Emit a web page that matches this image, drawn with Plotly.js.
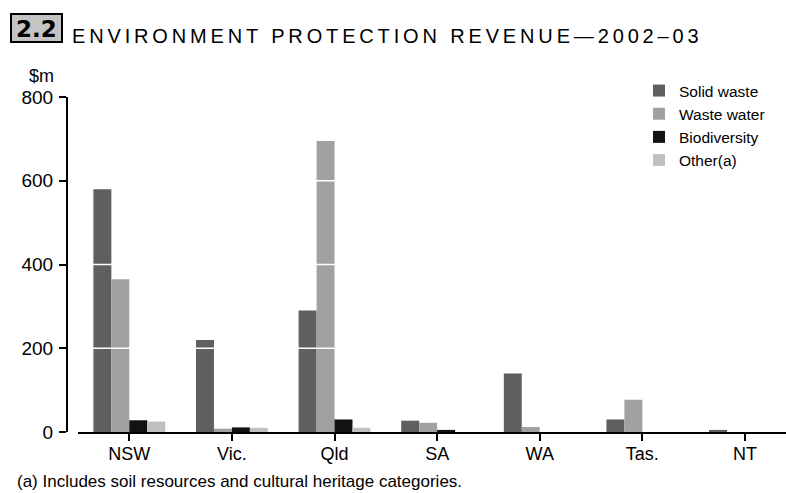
<!DOCTYPE html>
<html>
<head>
<meta charset="utf-8">
<script src="https://cdn.plot.ly/plotly-3.0.1.min.js"></script>
<style>
  html, body { margin: 0; padding: 0; background: #fff; }
  #chart { width: 786px; height: 493px; }
  .gtitle { letter-spacing: 3.85px; }
</style>
</head>
<body>
<div id="chart"></div>
<script>
// ---- Data ----
var categories = ['NSW', 'Vic.', 'Qld', 'SA', 'WA', 'Tas.', 'NT'];
var solidWaste = [580, 220, 290, 27, 140, 30, 5];
var wasteWater = [365, 8, 695, 22, 12, 77, 0];
var biodiversity = [28, 11, 30, 5, 0, 0, 0];
var otherA = [25, 10, 10, 0, 0, 0, 0];
var seriesNames = ['Solid waste', 'Waste water', 'Biodiversity', 'Other(a)'];
var yTickVals = [0, 200, 400, 600, 800];
var gridVals = [200, 400, 600];
var titleText = 'ENVIRONMENT PROTECTION REVENUE\u20142002\u201303';
var unitText = '$m';
var footnoteText = '(a) Includes soil resources and cultural heritage categories.';
var badgeText = '2.2';

// ---- Layout helpers ----
var W = 786, H = 493;
var ML = 60, MR = 0, MT = 97, MB = 61;
var PW = W - ML - MR, PH = H - MT - MB;
function px(x) { return (x - ML) / PW; }
function py(y) { return (H - MB - y) / PH; }

var FONT = 'Liberation Sans, Arial, sans-serif';
var colors = ['#5f5f5f', '#a1a1a1', '#121212', '#c0c0c0'];
var values = [solidWaste, wasteWater, biodiversity, otherA];

var traces = values.map(function (v, i) {
  return {
    type: 'bar', x: categories, y: v, name: seriesNames[i],
    marker: { color: colors[i], line: { width: 0 } },
    hoverinfo: 'skip'
  };
});

var shapes = gridVals.map(function (g) {
  return { type: 'line', layer: 'above', xref: 'paper', yref: 'y',
    x0: px(78), x1: 1, y0: g, y1: g, line: { color: '#ffffff', width: 1.5 } };
});
shapes.push({ type: 'rect', layer: 'above', xref: 'paper', yref: 'paper',
  x0: px(11), x1: px(62), y0: py(14), y1: py(42),
  fillcolor: '#c4c4c4', line: { color: '#000', width: 2 } });

var layout = {
  width: W, height: H,
  margin: { l: ML, r: MR, t: MT, b: MB, pad: 0 },
  paper_bgcolor: '#fff', plot_bgcolor: '#fff',
  showlegend: true,
  barmode: 'group', bargap: 0.3, bargroupgap: 0,
  font: { family: FONT, color: '#000' },
  title: {
    text: titleText, xref: 'container', yref: 'container',
    x: 72 / W, xanchor: 'left', y: 1 - 36 / H, yanchor: 'middle',
    font: { family: FONT, size: 20, color: '#000' }
  },
  xaxis: {
    type: 'category', range: [-0.5, 6.4], domain: [px(78), 1],
    showline: true, linecolor: '#000', linewidth: 2,
    ticks: 'outside', ticklen: 7, tickwidth: 2, tickcolor: '#000',
    showgrid: false, zeroline: false,
    tickfont: { family: FONT, size: 18, color: '#000' },
    ticklabelstandoff: -3, fixedrange: true
  },
  yaxis: {
    range: [0, 800], anchor: 'free', position: px(67),
    tickvals: yTickVals, ticktext: yTickVals.map(String),
    showline: true, linecolor: '#000', linewidth: 2,
    ticks: 'outside', ticklen: 7, tickwidth: 2, tickcolor: '#000',
    showgrid: false, zeroline: false,
    tickfont: { family: FONT, size: 19, color: '#000' },
    ticklabelstandoff: 2, fixedrange: true
  },
  legend: {
    x: px(639), xanchor: 'left', y: py(74), yanchor: 'top',
    font: { family: FONT, size: 15.5, color: '#000' },
    bgcolor: 'rgba(0,0,0,0)', borderwidth: 0,
    itemwidth: 30, tracegroupgap: 0, traceorder: 'normal'
  },
  shapes: shapes,
  annotations: [
    { text: unitText, xref: 'paper', yref: 'paper', x: px(41), y: py(76),
      xanchor: 'center', yanchor: 'middle', showarrow: false,
      font: { family: FONT, size: 18, color: '#000' } },
    { text: '<b>' + badgeText + '</b>', xref: 'paper', yref: 'paper', x: px(36.5), y: py(29),
      xanchor: 'center', yanchor: 'middle', showarrow: false,
      font: { family: 'DejaVu Sans, sans-serif', size: 23, color: '#000' } },
    { text: footnoteText, xref: 'paper', yref: 'paper', x: px(16), y: py(492),
      xanchor: 'left', yanchor: 'bottom', showarrow: false, borderpad: 0,
      font: { family: FONT, size: 17, color: '#000' } }
  ]
};

Plotly.newPlot('chart', traces, layout, { displayModeBar: false, staticPlot: true });
</script>
</body>
</html>
